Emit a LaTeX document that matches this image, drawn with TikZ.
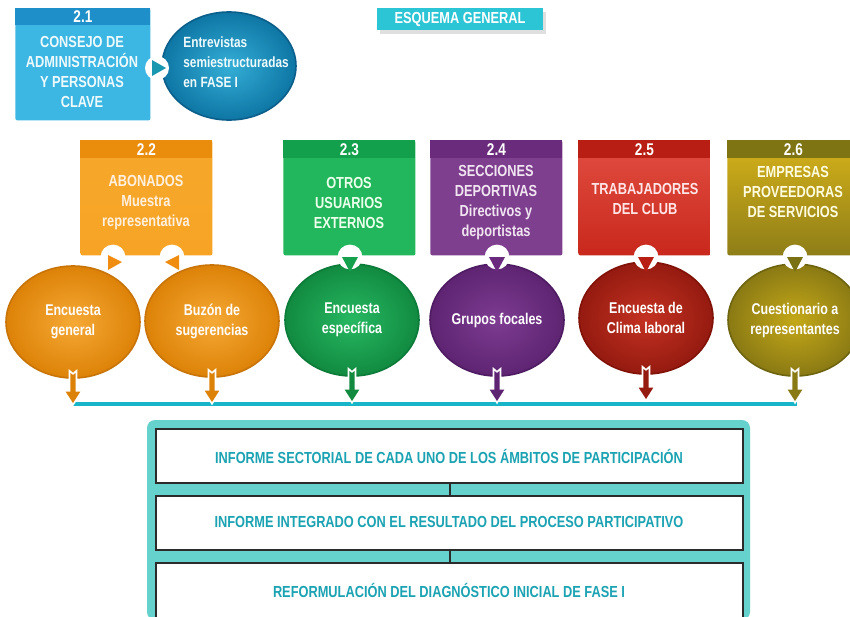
\documentclass[tikz,border=0pt]{standalone}
\usepackage{fontspec}
\setmainfont{Liberation Sans}[FakeStretch=0.8]
\usetikzlibrary{shapes.geometric,calc}
\definecolor{blbody}{HTML}{3CB6E3}\definecolor{blhead}{HTML}{1E8FC8}
\definecolor{blin}{HTML}{34AED6}\definecolor{blout}{HTML}{0E76A4}\definecolor{blrim}{HTML}{0B5F8A}
\definecolor{tri}{HTML}{1898B0}
\definecolor{orbody}{HTML}{F6A82A}\definecolor{orhead}{HTML}{EA8C0C}
\definecolor{orin}{HTML}{F5A935}\definecolor{orout}{HTML}{DD8208}\definecolor{orrim}{HTML}{C87408}\definecolor{ortri}{HTML}{F08C10}
\definecolor{grbody}{HTML}{22B75C}\definecolor{grhead}{HTML}{12A04C}
\definecolor{grin}{HTML}{27B862}\definecolor{grout}{HTML}{118A40}\definecolor{grrim}{HTML}{0C7A38}\definecolor{grtri}{HTML}{14A04C}
\definecolor{pubody}{HTML}{7E3F8E}\definecolor{puhead}{HTML}{6B2B7D}
\definecolor{puin}{HTML}{7D3C91}\definecolor{puout}{HTML}{5E2472}\definecolor{purim}{HTML}{4E1C62}\definecolor{putri}{HTML}{6A2A7E}
\definecolor{retop}{HTML}{E24E42}\definecolor{rebot}{HTML}{C9281C}\definecolor{rehead}{HTML}{B81E14}
\definecolor{rein}{HTML}{C43222}\definecolor{reout}{HTML}{951A10}\definecolor{rerim}{HTML}{801208}\definecolor{retri}{HTML}{B81E14}
\definecolor{oltop}{HTML}{D6B21A}\definecolor{olbot}{HTML}{8E7E18}\definecolor{olhead}{HTML}{7E7414}
\definecolor{olin}{HTML}{C4A818}\definecolor{olout}{HTML}{8A7A14}\definecolor{olrim}{HTML}{6E6410}\definecolor{oltri}{HTML}{7A7014}
\definecolor{cyan}{HTML}{2CC5D5}\definecolor{tline}{HTML}{18B4C8}
\definecolor{band}{HTML}{66D2CE}\definecolor{rim}{HTML}{2B2B2B}\definecolor{tealtx}{HTML}{1BA3B3}
\tikzset{
  catbox/.style={rectangle, rounded corners=1pt, anchor=north west, inner sep=0pt, minimum width=66pt, minimum height=57.5pt},
  hdr/.style={rectangle, anchor=north west, inner sep=0pt, minimum width=66pt, minimum height=9pt, text=white, font=\bfseries\fontsize{8.5}{9}\selectfont},
  cattext/.style={align=center, text=white!90!yellow, font=\bfseries\fontsize{8}{10}\selectfont, inner sep=0pt},
  ell/.style={ellipse, minimum width=67pt, minimum height=56pt, inner sep=0pt, align=center, text=white, line width=0.8pt, font=\bfseries\fontsize{7.8}{10}\selectfont},
  notch/.style={fill=white},
  report/.style={rectangle, draw=rim, fill=white, line width=1.2pt, anchor=north west, minimum width=293.5pt, minimum height=27pt, inner sep=0pt},
  reptext/.style={text=tealtx, font=\bfseries\fontsize{8}{10}\selectfont},
  collect/.style={draw=white, line width=0.8pt},
}
\begin{document}
\begin{tikzpicture}[x=0.5pt,y=-0.5pt]
\useasboundingbox (0,0) rectangle (850,616);
\fill[white] (0,0) rectangle (850,616);

% title
\fill[gray!25] (380,12) rectangle (546,34);
\node[rectangle, fill=cyan, minimum width=83pt, minimum height=11pt, inner sep=0pt, text=white, font=\bfseries\fontsize{8}{9}\selectfont] (title) at (460,19) {ESQUEMA GENERAL};

% 2.1
\node[catbox, fill=blbody, minimum width=67.5pt, minimum height=56pt] (b21) at (15,8) {};
\node[hdr, fill=blhead, minimum width=67.5pt, minimum height=8.5pt] (h21) at (15,8) {2.1};
\node[cattext, text=white!92!cyan] (t21) at (82,72) {CONSEJO DE\\ADMINISTRACIÓN\\Y PERSONAS\\CLAVE};
\node[ellipse, minimum width=67pt, minimum height=54pt, inner color=blin, outer color=blout, draw=blrim, line width=0.8pt] (e21) at (229,66) {};
\node[align=left, anchor=west, text=white!92!cyan, inner sep=0pt, font=\bfseries\fontsize{7.4}{10}\selectfont] (te21) at (183,62) {Entrevistas\\semiestructuradas\\en FASE I};
\fill[notch] (157,68) circle[radius=6pt];
\fill[tri] (152,60) -- (166,68) -- (152,76) -- cycle;

% 2.2
\node[catbox, top color=orbody, bottom color=orbody!90!orange] (b22) at (80,140) {};
\node[hdr, fill=orhead] (h22) at (80,140) {2.2};
\node[cattext, text=white!88!orange] (t22) at (146,203) {ABONADOS\\Muestra\\representativa};
% 2.3
\node[catbox, fill=grbody] (b23) at (283,140) {};
\node[hdr, fill=grhead] (h23) at (283,140) {2.3};
\node[cattext, text=white!92!green] (t23) at (349,203) {OTROS\\USUARIOS\\EXTERNOS};
% 2.4
\node[catbox, fill=pubody] (b24) at (430,140) {};
\node[hdr, fill=puhead] (h24) at (430,140) {2.4};
\node[cattext, text=white!90!violet] (t24) at (496,203) {SECCIONES\\DEPORTIVAS\\Directivos y\\deportistas};
% 2.5
\node[catbox, top color=retop, bottom color=rebot] (b25) at (578,140) {};
\node[hdr, fill=rehead] (h25) at (578,140) {2.5};
\node[cattext, text=white!90!red] (t25) at (645,199) {TRABAJADORES\\DEL CLUB};
% 2.6
\node[catbox, top color=oltop, bottom color=olbot] (b26) at (727,140) {};
\node[hdr, fill=olhead] (h26) at (727,140) {2.6};
\node[cattext, text=white!88!yellow] (t26) at (793,192) {EMPRESAS\\PROVEEDORAS\\DE SERVICIOS};

% ellipses
\node[ell, inner color=orin, outer color=orout, draw=orrim] (e1) at (73,322) {Encuesta\\general};
\node[ell, inner color=orin, outer color=orout, draw=orrim] (e2) at (212,321) {Buzón de\\sugerencias};
\node[ell, inner color=grin, outer color=grout, draw=grrim] (e3) at (352,320) {Encuesta\\específica};
\node[ell, inner color=puin, outer color=puout, draw=purim] (e4) at (497,320) {Grupos focales};
\node[ell, inner color=rein, outer color=reout, draw=rerim] (e5) at (646,318) {Encuesta de\\Clima laboral};
\node[ell, inner color=olin, outer color=olout, draw=olrim] (e6) at (795,320) {Cuestionario a\\representantes};

% notches and triangles
\foreach \x in {113,172,350,497,646,795} \fill[notch] (\x,257) circle[radius=6.2pt];
\fill[ortri] (108,255) -- (122,262) -- (108,270) -- cycle;
\fill[ortri] (179,255) -- (165,262) -- (179,270) -- cycle;
\fill[grtri] (342,257) -- (358,257) -- (350,272) -- cycle;
\fill[putri] (489,257) -- (505,257) -- (497,272) -- cycle;
\fill[retri] (638,257) -- (654,257) -- (646,272) -- cycle;
\fill[oltri] (787,257) -- (803,257) -- (795,272) -- cycle;

% collecting line
\coordinate (l1) at (73,404);
\coordinate (l6) at (797,404);
\draw[tline, line width=1.6pt] (l1) -- (l6);
\foreach \e/\c in {e1/orout,e2/orout,e3/grout,e4/puout,e5/reout,e6/olout}{
  \path[collect, fill=\c, shift={(\e.south)}] (-3.5,-8) -- (0,-5) -- (3.5,-8) -- (3.5,12) -- (9,12) -- (0,26) -- (-9,12) -- (-3.5,12) -- cycle;
}

% reports
\fill[band, rounded corners=4pt] (147,420) rectangle (750,620);
\node[report] (r1) at (155,428) {};
\node[report] (r2) at (155,495) {};
\node[report, minimum height=31pt] (r3) at (155,562) {};
\draw[rim, line width=1.2pt] (r1.south) -- (r2.north);
\draw[rim, line width=1.2pt] (r2.south) -- (r3.north);
\node[reptext] (tr1) at (449,456) {INFORME SECTORIAL DE CADA UNO DE LOS ÁMBITOS DE PARTICIPACIÓN};
\node[reptext] (tr2) at (449,522) {INFORME INTEGRADO CON EL RESULTADO DEL PROCESO PARTICIPATIVO};
\node[reptext] (tr3) at (449,590) {REFORMULACIÓN DEL DIAGNÓSTICO INICIAL DE FASE I};
\end{tikzpicture}
\end{document}
